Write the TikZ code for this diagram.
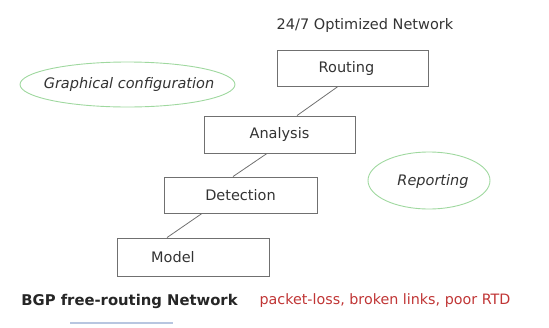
\documentclass[tikz,border=0pt]{standalone}
\usepackage{fontspec}
\setmainfont{DejaVu Sans}
\definecolor{boxgray}{HTML}{707070}
\definecolor{txtgray}{HTML}{333333}
\definecolor{ellgreen}{HTML}{9FD89F}
\definecolor{redtxt}{HTML}{C03535}
\definecolor{ulblue}{HTML}{B8C6E0}
\tikzset{
  stepbox/.style={draw=boxgray, line width=0.9pt, rectangle, minimum width=151pt, minimum height=36pt, inner sep=0pt, font=\fontsize{14.5}{17}\selectfont, text=txtgray},
  bubbletext/.style={inner sep=0pt, font=\fontsize{14.5}{17}\selectfont\itshape, text=txtgray},
  bubbleline/.style={draw=ellgreen, line width=0.9pt},
  link/.style={draw=boxgray, line width=0.8pt},
  plain/.style={inner sep=0pt, font=\fontsize{14.5}{17}\selectfont, text=txtgray}
}
\begin{document}
\begin{tikzpicture}[x=1pt,y=-1pt]
\useasboundingbox (0,0) rectangle (549,327);
\node[plain] (title) at (365,25) {24/7 Optimized Network};
\node[stepbox] (routing) at (352.5,68) {\hspace*{-12pt}Routing};
\node[stepbox, minimum height=37pt] (analysis) at (279.5,134.5) {Analysis};
\node[stepbox, minimum width=153pt] (detection) at (240.5,195) {Detection};
\node[stepbox, minimum width=152pt, minimum height=38pt] (model) at (193,257) {\hspace*{-40pt}Model};
\node[bubbletext] (graph) at (129,84.5) {Graphical configuration};
\draw[bubbleline] (127.5,84.5) ellipse [x radius=107.5pt, y radius=22.5pt];
\node[bubbletext] (report) at (433,181) {Reporting};
\draw[bubbleline] (429,180.5) ellipse [x radius=61pt, y radius=28.5pt];
\draw[link] ([xshift=-14.5pt]routing.south) -- ([xshift=17.5pt]analysis.north);
\draw[link] ([xshift=-12.5pt]analysis.south) -- ([xshift=-7.5pt]detection.north);
\draw[link] ([xshift=-38.5pt]detection.south) -- ([xshift=-26pt]model.north);
\node[plain, font=\fontsize{14.8}{18}\selectfont\bfseries, text=black!85] (bgp) at (129.5,301) {BGP free-routing Network};
\node[plain, text=redtxt, font=\fontsize{14.3}{17}\selectfont] (loss) at (385,301) {packet-loss, broken links, poor RTD};
\coordinate (ula) at (70,323);
\coordinate (ulb) at (173,323);
\draw[ulblue, line width=1.2pt] (ula) -- (ulb);
\end{tikzpicture}
\end{document}
